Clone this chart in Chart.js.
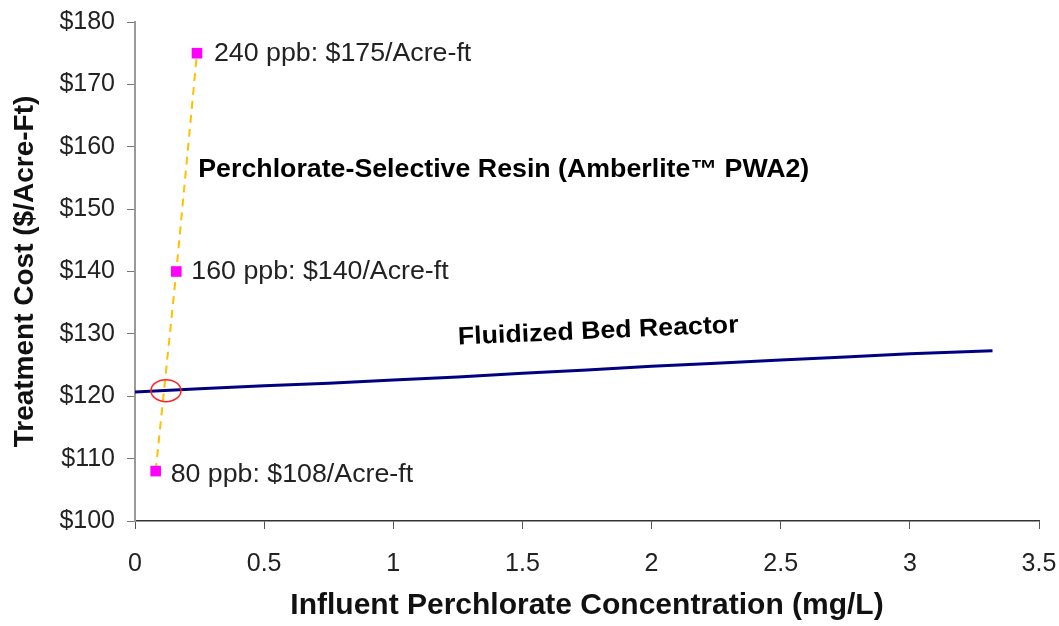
<!DOCTYPE html>
<html>
<head>
<meta charset="utf-8">
<script src="https://cdn.jsdelivr.net/npm/chart.js@4/dist/chart.umd.min.js"></script>
<style>
  html, body { margin: 0; padding: 0; background: #fff; }
  #wrap { width: 1059px; height: 626px; position: relative; }
</style>
</head>
<body>
<div id="wrap"><canvas id="chart"></canvas></div>
<script>
// Resin points (mg/L, $/acre-ft)
const resinX = [0.08, 0.16, 0.24]
const resinY = [108, 140, 175]
const resinLabels = ['80 ppb: $108/Acre-ft', '160 ppb: $140/Acre-ft', '240 ppb: $175/Acre-ft']

// Fluidized bed reactor curve
const fbrX = [0, 0.25, 0.5, 0.75, 1.0, 1.25, 1.5, 1.75, 2.0, 2.25, 2.5, 2.75, 3.0, 3.32]
const fbrY = [120.7, 121.2, 121.7, 122.1, 122.6, 123.1, 123.7, 124.2, 124.8, 125.3, 125.8, 126.3, 126.8, 127.3]

// break-even marker
const crossX = 0.12
const crossY = 120.9

const xTicks = [0, 0.5, 1, 1.5, 2, 2.5, 3, 3.5]
const yTicks = [100, 110, 120, 130, 140, 150, 160, 170, 180]

const FONT = '"Liberation Sans", Arial, sans-serif'
const STRETCH = 1.07

// draw text a little wider, like the original
function wideText(ctx, text, px, py, angle) {
  ctx.save()
  ctx.translate(px, py)
  if (angle) ctx.rotate(angle)
  ctx.scale(STRETCH, 1)
  ctx.fillText(text, 0, 0)
  ctx.restore()
}

const annotate = {
  id: 'annotate',
  afterDatasetsDraw(chart) {
    const { ctx, scales: { x, y } } = chart
    ctx.save()

    // red ellipse at the crossover
    ctx.strokeStyle = '#ff2020'
    ctx.lineWidth = 1.5
    ctx.beginPath()
    ctx.ellipse(x.getPixelForValue(crossX), y.getPixelForValue(crossY), 15, 11, 0, 0, Math.PI * 2)
    ctx.stroke()

    // point labels
    ctx.fillStyle = '#222'
    ctx.font = '25px ' + FONT
    ctx.textBaseline = 'middle'
    ctx.textAlign = 'left'
    const dx = [15, 15, 17]
    const dy = [4, 1, 1]
    resinLabels.forEach((t, i) => {
      wideText(ctx, t, x.getPixelForValue(resinX[i]) + dx[i], y.getPixelForValue(resinY[i]) + dy[i])
    })

    // series names
    ctx.fillStyle = '#000'
    ctx.font = 'bold 25px ' + FONT
    wideText(ctx, 'Perchlorate-Selective Resin (Amberlite\u2122 PWA2)', x.getPixelForValue(0.245), y.getPixelForValue(156.3))
    wideText(ctx, 'Fluidized Bed Reactor', x.getPixelForValue(1.25), y.getPixelForValue(129.4), -2.5 * Math.PI / 180)

    ctx.restore()
  }
}

new Chart(document.getElementById('chart'), {
  type: 'scatter',
  data: {
    datasets: [
      {
        label: 'Fluidized Bed Reactor',
        data: fbrX.map((v, i) => ({ x: v, y: fbrY[i] })),
        showLine: true,
        borderColor: '#000080',
        borderWidth: 3,
        pointRadius: 0,
        tension: 0
      },
      {
        label: 'Perchlorate-Selective Resin',
        data: resinX.map((v, i) => ({ x: v, y: resinY[i] })),
        showLine: true,
        borderColor: '#ffc000',
        borderWidth: 2,
        borderDash: [8, 6],
        pointStyle: 'rect',
        pointRadius: 7.5,
        pointBackgroundColor: '#ff00ff',
        pointBorderColor: '#ff00ff',
        pointBorderWidth: 0
      }
    ]
  },
  options: {
    responsive: true,
    maintainAspectRatio: false,
    animation: false,
    layout: { padding: { left: 0, right: 0, top: 8, bottom: 0 } },
    plugins: {
      legend: { display: false },
      tooltip: { enabled: false }
    },
    scales: {
      x: {
        type: 'linear',
        min: 0,
        max: 3.5,
        afterBuildTicks: s => { s.ticks = xTicks.map(v => ({ value: v })) },
        afterFit: s => { s.height = 105; s.paddingRight = 20 },
        border: { color: '#333', width: 1.5 },
        grid: { drawOnChartArea: false, drawTicks: true, tickLength: 8, tickColor: '#555' },
        ticks: {
          color: '#222',
          font: { family: FONT, size: 25 },
          padding: 20,
          maxRotation: 0,
          callback: v => String(v)
        },
        title: {
          display: true,
          text: 'Influent Perchlorate Concentration (mg/L)',
          color: '#111',
          font: { family: FONT, size: 30, weight: 'bold' },
          padding: { top: 4, bottom: 2 }
        }
      },
      y: {
        type: 'linear',
        min: 100,
        max: 180,
        afterBuildTicks: s => { s.ticks = yTicks.map(v => ({ value: v })) },
        afterFit: s => { s.width = 135; s.paddingTop = 22 },
        border: { color: '#999', width: 2 },
        grid: { drawOnChartArea: false, drawTicks: true, tickLength: 8, tickColor: '#777' },
        ticks: {
          color: '#222',
          font: { family: FONT, size: 25, lineHeight: 1 },
          padding: 12,
          callback: v => '$' + v
        },
        title: {
          display: true,
          text: 'Treatment Cost ($/Acre-Ft)',
          color: '#111',
          font: { family: FONT, size: 28, weight: 'bold' },
          padding: { top: 8, bottom: 0 }
        }
      }
    }
  },
  plugins: [annotate]
})
</script>
</body>
</html>
